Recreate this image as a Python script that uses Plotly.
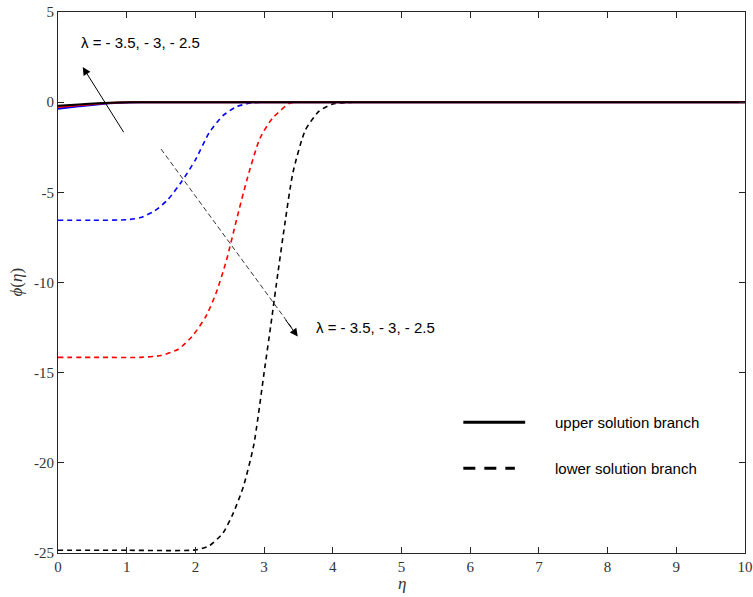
import plotly.graph_objects as go

# lambda values, one colour per value
lambdas = [-3.5, -3.0, -2.5]
colors = ["#0000ff", "#ff0000", "#000000"]

# upper solution branch: phi(eta)
eta_upper = [0.0, 0.3, 0.6, 0.9, 1.2, 1.5, 2.0, 3.0, 5.0, 10.0]
phi_upper = {
    -3.5: [-0.36, -0.23, -0.11, -0.035, -0.005, 0.0, 0.0, 0.0, 0.0, 0.0],
    -3.0: [-0.27, -0.17, -0.08, -0.025, 0.0, 0.0, 0.0, 0.0, 0.0, 0.0],
    -2.5: [-0.20, -0.13, -0.06, -0.02, 0.0, 0.0, 0.0, 0.0, 0.0, 0.0],
}

# lower solution branch: phi(eta)
eta_lower = {
    -3.5: [0.0, 0.5, 1.0, 1.2, 1.4, 1.6, 1.8, 2.0, 2.2, 2.4, 2.6, 2.8, 3.0, 4.0, 10.0],
    -3.0: [0.0, 0.6, 1.2, 1.5, 1.75, 1.95, 2.15, 2.3, 2.45, 2.6, 2.75, 2.94, 3.12, 3.38, 3.6, 4.5, 10.0],
    -2.5: [0.0, 1.0, 2.0, 2.2, 2.4, 2.55, 2.7, 2.85, 3.0, 3.1, 3.2, 3.3, 3.42, 3.6, 3.8, 4.0, 4.3, 5.0, 10.0],
}
phi_lower = {
    -3.5: [-6.55, -6.55, -6.52, -6.4, -6.05, -5.4, -4.4, -3.2, -1.7, -0.75, -0.25, -0.05, 0.0, 0.0, 0.0],
    -3.0: [-14.15, -14.15, -14.15, -14.05, -13.7, -13.0, -11.9, -10.6, -8.8, -6.5, -4.3, -2.0, -0.9, -0.05, 0.0, 0.0, 0.0],
    -2.5: [-24.85, -24.85, -24.83, -24.6, -23.9, -22.8, -21.3, -19.0, -15.0, -12.3, -9.5, -6.8, -3.9, -1.55, -0.5, -0.1, 0.0, 0.0, 0.0],
}

x_ticks = list(range(0, 11))
y_ticks = [5, 0, -5, -10, -15, -20, -25]

fig = go.Figure()

for lam, col in zip(lambdas, colors):
    fig.add_trace(go.Scatter(
        x=eta_lower[lam], y=phi_lower[lam], mode="lines",
        line=dict(color=col, width=1.6, dash="5px,4px", shape="spline", smoothing=0.6),
        showlegend=False, hoverinfo="skip"))

for lam, col in zip(lambdas, colors):
    fig.add_trace(go.Scatter(
        x=eta_upper, y=phi_upper[lam], mode="lines",
        line=dict(color=col, width=2, shape="spline", smoothing=0.6),
        showlegend=False, hoverinfo="skip"))

label = "λ = - 3.5, - 3, - 2.5"
txt_font = dict(family="Liberation Sans", size=15, color="#000000")
serif = "Liberation Serif"
title_font = dict(family=serif, size=17, color="#333333")

# arrow for the upper branch
fig.add_annotation(x=0.36, y=1.95, ax=0.97, ay=-1.75, xref="x", yref="y",
                   axref="x", ayref="y", text="", showarrow=True,
                   arrowhead=2, arrowsize=1.6, arrowwidth=1, arrowcolor="#000000")
fig.add_annotation(x=0.3, y=3.3, xref="x", yref="y", text=label, showarrow=False,
                   xanchor="left", yanchor="middle", font=txt_font)

# dashed arrow for the lower branch
fig.add_shape(type="line", x0=1.5, y0=-2.6, x1=3.42, y1=-12.6, xref="x", yref="y",
              line=dict(color="#000000", width=0.8, dash="5px,3px"))
fig.add_annotation(x=3.49, y=-13.0, ax=3.3, ay=-12.0, xref="x", yref="y",
                   axref="x", ayref="y", text="", showarrow=True,
                   arrowhead=2, arrowsize=1.6, arrowwidth=1, arrowcolor="#000000")
fig.add_annotation(x=3.73, y=-12.5, xref="x", yref="y", text=label, showarrow=False,
                   xanchor="left", yanchor="middle", font=txt_font)

# legend key
fig.add_shape(type="line", x0=5.9, x1=6.8, y0=-17.75, y1=-17.75, xref="x", yref="y",
              line=dict(color="#000000", width=3))
fig.add_shape(type="line", x0=5.9, x1=6.65, y0=-20.3, y1=-20.3, xref="x", yref="y",
              line=dict(color="#000000", width=3, dash="12px,9px"))
fig.add_annotation(x=7.2, y=-17.75, xref="x", yref="y", text="upper solution branch",
                   showarrow=False, xanchor="left", yanchor="middle", font=txt_font)
fig.add_annotation(x=7.2, y=-20.3, xref="x", yref="y", text="lower solution branch",
                   showarrow=False, xanchor="left", yanchor="middle", font=txt_font)

# axis titles
fig.add_annotation(x=0.5, y=0, xref="paper", yref="paper", yshift=-30,
                   text="<i>η</i>", showarrow=False, xanchor="center",
                   yanchor="middle", font=title_font)
fig.add_annotation(x=0, y=0.5, xref="paper", yref="paper", xshift=-42,
                   text="<i>ϕ</i>(<i>η</i>)", showarrow=False, textangle=-90,
                   xanchor="center", yanchor="middle", font=title_font)

axis_common = dict(
    showline=True, linecolor="#262626", linewidth=1, mirror="ticks",
    ticks="inside", ticklen=6, tickcolor="#262626", tickwidth=1,
    showgrid=False, zeroline=False, automargin=False,
    tickfont=dict(family=serif, size=15, color="#333333"),
)

fig.update_xaxes(range=[0, 10], tickvals=x_ticks, ticktext=[str(v) for v in x_ticks],
                 **axis_common)
fig.update_yaxes(range=[-25, 5], tickvals=y_ticks, ticktext=[str(v) for v in y_ticks],
                 **axis_common)

fig.update_layout(
    width=753, height=597,
    margin=dict(l=58, r=8, t=12, b=44, autoexpand=False),
    paper_bgcolor="white", plot_bgcolor="white",
)

fig.write_html("out.html")
